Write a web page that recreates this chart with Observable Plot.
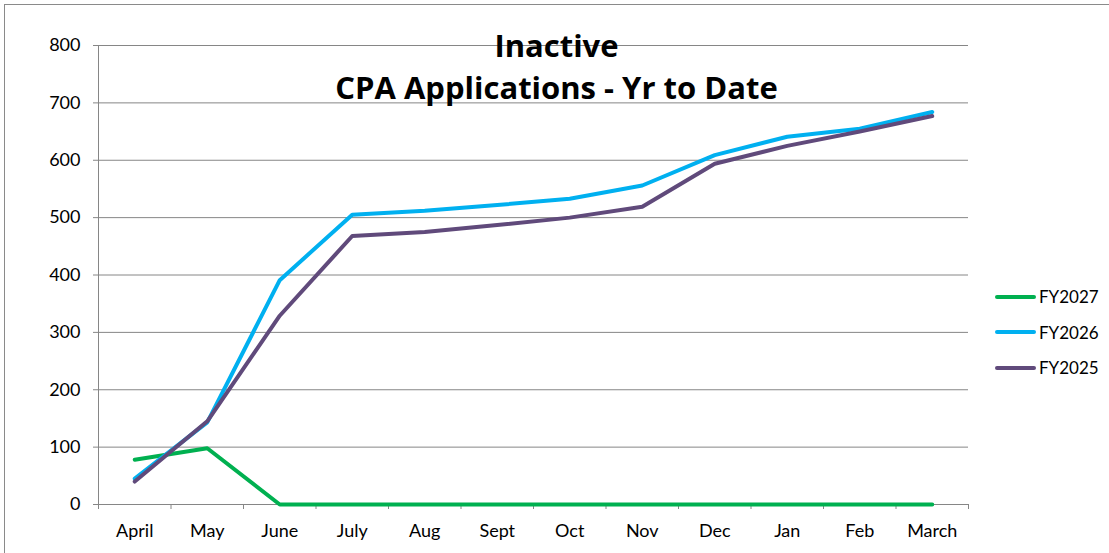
<!DOCTYPE html>
<html>
<head>
<meta charset="utf-8">
<script src="https://cdn.jsdelivr.net/npm/d3@7"></script>
<script src="https://cdn.jsdelivr.net/npm/@observablehq/plot@0.6"></script>
<style>
  body { margin: 0; background: #fff; }
  #wrap { position: relative; width: 1109px; height: 553px; overflow: hidden; font-family: Lato, "Open Sans", sans-serif; }
  #frame { position: absolute; left: 4px; top: 4px; width: 1120px; height: 570px; border: 1px solid #8a8a8a; box-sizing: border-box; }
  #chart { position: absolute; left: 0; top: 0; }
  #title { position: absolute; left: 0; width: 1113px; top: 24px; text-align: center; font-family: "Open Sans", Lato, sans-serif; font-weight: bold; font-size: 31px; line-height: 42px; color: #000; }
  #legend { position: absolute; left: 995px; top: 279px; font-size: 17px; color: #000; }
  .item { display: flex; align-items: center; height: 35.5px; }
  .swatch { width: 41px; height: 4px; border-radius: 2px; margin-right: 3px; }
</style>
</head>
<body>
<div id="wrap">
  <div id="frame"></div>
  <div id="chart"></div>
  <div id="title">Inactive<br>CPA Applications - Yr to Date</div>
  <div id="legend"></div>
</div>
<script>
const months = ["April", "May", "June", "July", "Aug", "Sept", "Oct", "Nov", "Dec", "Jan", "Feb", "March"];
const seriesNames = ["FY2027", "FY2026", "FY2025"];
const seriesColors = ["#00b050", "#00b0f0", "#604a7b"];
const fy2027 = [78, 98, 0, 0, 0, 0, 0, 0, 0, 0, 0, 0];
const fy2026 = [45, 143, 391, 505, 512, 522, 533, 556, 609, 641, 655, 684];
const fy2025 = [40, 145, 329, 468, 475, 487, 500, 519, 594, 625, 650, 677];
const yTicks = [0, 100, 200, 300, 400, 500, 600, 700, 800];

const seriesValues = [fy2027, fy2026, fy2025];
const data = [];
seriesNames.forEach((name, s) => {
  seriesValues[s].forEach((v, i) => data.push({series: name, i, value: v}));
});

const grid = "#868686";
const chart = Plot.plot({
  width: 1109,
  height: 553,
  marginLeft: 98,
  marginRight: 141,
  marginTop: 45,
  marginBottom: 49,
  style: {fontFamily: "Lato, 'Open Sans', sans-serif", fontSize: "18px", color: "#000", background: "transparent", overflow: "visible"},
  x: {type: "linear", domain: [-0.5, months.length - 0.5]},
  y: {domain: [0, 800]},
  color: {domain: seriesNames, range: seriesColors},
  marks: [
    Plot.gridY(yTicks, {stroke: grid, strokeOpacity: 1, strokeWidth: 1}),
    Plot.ruleX([-0.5], {stroke: grid, strokeWidth: 1}),
    Plot.axisY(yTicks, {tickSize: 5, tickPadding: 13, stroke: grid, fill: "#000", label: null, fontSize: 18}),
    Plot.axisX(d3.range(-0.5, months.length, 1), {tickSize: 5, tickFormat: () => "", stroke: grid, label: null}),
    Plot.axisX(d3.range(0, months.length), {tickSize: 0, tickPadding: 20, tickFormat: i => months[i], fill: "#000", label: null, fontSize: 18}),
    Plot.line(data, {x: "i", y: "value", z: "series", stroke: "series", strokeWidth: 4, strokeLinejoin: "round"})
  ]
});
document.getElementById("chart").appendChild(chart);

const legend = document.getElementById("legend");
seriesNames.forEach((name, s) => {
  const item = document.createElement("div");
  item.className = "item";
  item.innerHTML = `<div class="swatch" style="background:${seriesColors[s]}"></div><span>${name}</span>`;
  legend.appendChild(item);
});
</script>
</body>
</html>
